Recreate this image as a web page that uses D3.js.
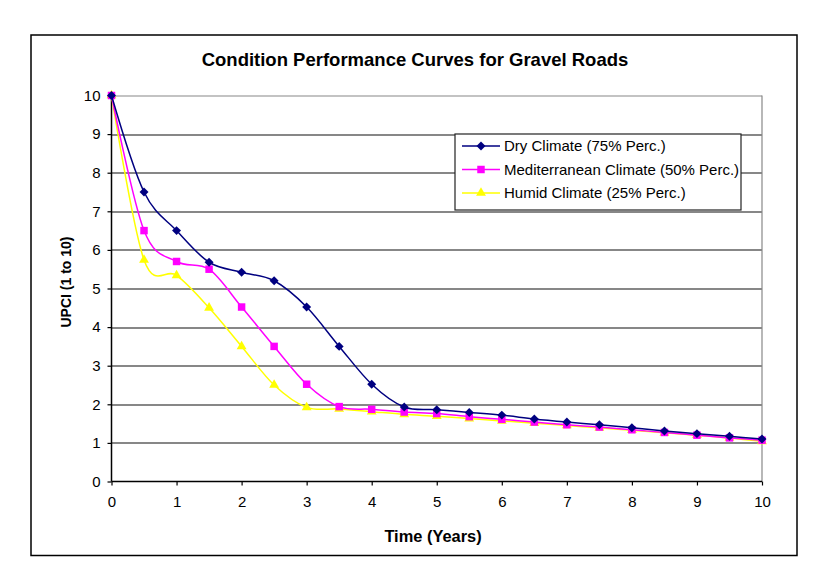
<!DOCTYPE html>
<html>
<head>
<meta charset="utf-8">
<script src="https://cdn.jsdelivr.net/npm/d3@7"></script>
<style>
  html, body { margin: 0; padding: 0; background: #fff; }
  svg { display: block; font-family: Arial, "Liberation Sans", sans-serif; }
</style>
</head>
<body>
<div id="chart"></div>
<script>
// Time axis (years)
const years = [0, 0.5, 1, 1.5, 2, 2.5, 3, 3.5, 4, 4.5, 5, 5.5, 6, 6.5, 7, 7.5, 8, 8.5, 9, 9.5, 10];

// UPCI values
const dryValues = [10, 7.5, 6.5, 5.68, 5.42, 5.2, 4.52, 3.5, 2.52, 1.93, 1.86, 1.79, 1.72, 1.62, 1.54, 1.47, 1.39, 1.31, 1.24, 1.17, 1.1];
const medValues = [10, 6.5, 5.7, 5.5, 4.52, 3.5, 2.52, 1.94, 1.87, 1.8, 1.76, 1.68, 1.61, 1.54, 1.47, 1.41, 1.34, 1.27, 1.2, 1.13, 1.07];
const humidValues = [10, 5.74, 5.34, 4.5, 3.5, 2.5, 1.92, 1.88, 1.81, 1.74, 1.69, 1.63, 1.57, 1.51, 1.45, 1.39, 1.33, 1.26, 1.2, 1.13, 1.04];

const seriesNames = ['Dry Climate (75% Perc.)', 'Mediterranean Climate (50% Perc.)', 'Humid Climate (25% Perc.)'];
const xTicks = d3.range(0, 11);
const yTicks = d3.range(0, 11);

const W = 818, H = 579;
const margin = { top: 95.5, right: 56, bottom: 97.5, left: 111.5 };
const innerW = W - margin.left - margin.right;
const innerH = H - margin.top - margin.bottom;

const svg = d3.select('#chart').append('svg')
  .attr('width', W)
  .attr('height', H);

// chart area frame
svg.append('rect')
  .attr('x', 31).attr('y', 35)
  .attr('width', 766).attr('height', 520.5)
  .attr('fill', '#fff')
  .attr('stroke', '#000')
  .attr('stroke-width', 1.5);

svg.append('text')
  .attr('x', 415).attr('y', 65.5)
  .attr('text-anchor', 'middle')
  .attr('font-size', 18.5)
  .attr('font-weight', 'bold')
  .text('Condition Performance Curves for Gravel Roads');

const g = svg.append('g').attr('transform', `translate(${margin.left},${margin.top})`);

const x = d3.scaleLinear().domain([0, 10]).range([0, innerW]);
const y = d3.scaleLinear().domain([0, 10]).range([innerH, 0]);

// gridlines
g.append('g')
  .selectAll('line')
  .data(yTicks.filter(d => d > 0))
  .join('line')
  .attr('x1', 0).attr('x2', innerW)
  .attr('y1', d => Math.round(y(d)) + 0.5).attr('y2', d => Math.round(y(d)) + 0.5)
  .attr('stroke', d => d === 10 ? '#888' : '#111')
  .attr('stroke-width', 1.2);

// right border of plot area
g.append('line')
  .attr('x1', innerW).attr('x2', innerW)
  .attr('y1', 0).attr('y2', innerH)
  .attr('stroke', '#888')
  .attr('stroke-width', 1.2);

const xAxis = g.append('g')
  .attr('transform', `translate(0,${innerH})`)
  .call(d3.axisBottom(x).tickValues(xTicks).tickSize(4).tickPadding(11).tickFormat(d3.format('d')));
const yAxis = g.append('g')
  .call(d3.axisLeft(y).tickValues(yTicks).tickSize(4).tickPadding(7).tickFormat(d3.format('d')));

[xAxis, yAxis].forEach(a => {
  a.select('.domain').attr('stroke', '#000').attr('stroke-width', 1.5);
  a.selectAll('.tick line').attr('stroke', '#000').attr('stroke-width', 1.2);
  a.selectAll('.tick text')
    .attr('font-size', 15)
    .attr('font-family', 'Arial, "Liberation Sans", sans-serif')
    .attr('fill', '#000');
});
xAxis.select('.domain').attr('d', `M0,0H${innerW}`);
yAxis.select('.domain').attr('d', `M0,0V${innerH}`);

svg.append('text')
  .attr('x', 433).attr('y', 541.5)
  .attr('text-anchor', 'middle')
  .attr('font-size', 16.4)
  .attr('font-weight', 'bold')
  .text('Time (Years)');

svg.append('text')
  .attr('transform', 'translate(70.5,282) rotate(-90)')
  .attr('text-anchor', 'middle')
  .attr('font-size', 14)
  .attr('font-weight', 'bold')
  .text('UPCI (1 to 10)');

// Excel style markers: diamond is a square turned 45 degrees
const diamond = {
  draw(ctx, size) {
    const r = Math.sqrt(size / 2);
    ctx.moveTo(0, -r);
    ctx.lineTo(r, 0);
    ctx.lineTo(0, r);
    ctx.lineTo(-r, 0);
    ctx.closePath();
  }
};

const series = [
  { name: seriesNames[0], values: dryValues, color: '#000080', symbol: diamond, size: 40 },
  { name: seriesNames[1], values: medValues, color: '#FF00FF', symbol: d3.symbolSquare, size: 56 },
  { name: seriesNames[2], values: humidValues, color: '#FFFF00', symbol: d3.symbolTriangle, size: 42 }
];

const line = d3.line()
  .x(d => x(d[0]))
  .y(d => y(d[1]))
  .curve(d3.curveCardinal.tension(0));

// draw in reverse so dry is on top
series.slice().reverse().forEach(s => {
  const pts = years.map((t, i) => [t, s.values[i]]);
  g.append('path')
    .datum(pts)
    .attr('fill', 'none')
    .attr('stroke', s.color)
    .attr('stroke-width', 1.5)
    .attr('d', line);
  g.append('g')
    .selectAll('path')
    .data(pts)
    .join('path')
    .attr('transform', d => `translate(${x(d[0])},${y(d[1])})`)
    .attr('d', d3.symbol().type(s.symbol).size(s.size))
    .attr('fill', s.color);
});

// legend
const legend = svg.append('g').attr('transform', 'translate(455,134)');
legend.append('rect')
  .attr('width', 286).attr('height', 76)
  .attr('fill', '#fff')
  .attr('stroke', '#222')
  .attr('stroke-width', 1.2);

const rowY = [12, 35.5, 59];
series.forEach((s, i) => {
  const row = legend.append('g').attr('transform', `translate(0,${rowY[i]})`);
  row.append('line')
    .attr('x1', 7).attr('x2', 45)
    .attr('stroke', s.color)
    .attr('stroke-width', 1.5);
  row.append('path')
    .attr('transform', 'translate(26,0)')
    .attr('d', d3.symbol().type(s.symbol).size(s.size))
    .attr('fill', s.color);
  row.append('text')
    .attr('x', 49).attr('dy', '0.35em')
    .attr('font-size', 15)
    .text(s.name);
});
</script>
</body>
</html>
